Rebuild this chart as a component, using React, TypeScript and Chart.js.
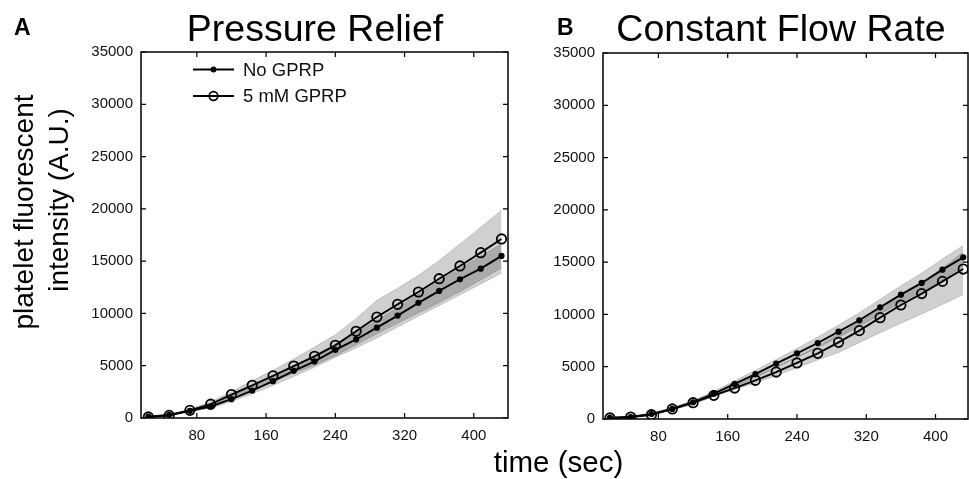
import React, { useEffect, useRef } from "react";
import { Chart, registerables } from "chart.js";
Chart.register(...registerables);

const FONT = "'Liberation Sans', Arial, Helvetica, sans-serif";

const times = [24, 48, 72, 96, 120, 144, 168, 192, 216, 240, 264, 288, 312, 336, 360, 384, 408, 432];
const xTicks = [80, 160, 240, 320, 400];
const yTicks = [0, 5000, 10000, 15000, 20000, 25000, 30000, 35000];
const seriesLabels = ["No GPRP", "5 mM GPRP"];

// Panel A: Pressure Relief
const aNoMean = [130, 290, 690, 1100, 1800, 2620, 3520, 4510, 5410, 6520, 7510, 8640, 9790, 11010, 12150, 13270, 14280, 15500];
const aNoUpper = [200, 360, 790, 1320, 2120, 3020, 3980, 4980, 5980, 7100, 8150, 9350, 10550, 11850, 13100, 14300, 15500, 16640];
const aNoLower = [80, 220, 590, 940, 1580, 2320, 3100, 3980, 4850, 5800, 6700, 7650, 8700, 9730, 10760, 11780, 12810, 13850];
const aGprpMean = [100, 250, 730, 1320, 2240, 3130, 4030, 4970, 5900, 6950, 8290, 9660, 10870, 12050, 13320, 14540, 15810, 17120];
const aGprpUpper = [150, 320, 850, 1550, 2500, 3580, 4560, 5650, 6780, 7950, 9500, 11250, 12400, 13650, 15050, 16650, 18250, 19860];
const aGprpLower = [60, 200, 620, 1100, 1950, 2720, 3450, 4300, 5050, 5950, 7000, 8050, 9050, 10050, 11050, 12100, 13200, 14340];

// Panel B: Constant Flow Rate
const bNoMean = [100, 190, 480, 960, 1600, 2420, 3350, 4300, 5290, 6280, 7270, 8350, 9440, 10680, 11890, 13010, 14280, 15460];
const bNoUpper = [150, 250, 560, 1070, 1760, 2650, 3650, 4650, 5700, 6750, 7850, 9000, 10150, 11450, 12750, 13950, 15300, 16600];
const bNoLower = [60, 140, 400, 870, 1450, 2230, 3080, 3980, 4920, 5880, 6820, 7820, 8850, 10000, 11150, 12200, 13350, 14550];
const bGprpMean = [100, 190, 410, 960, 1560, 2260, 2960, 3700, 4490, 5360, 6280, 7330, 8450, 9690, 10900, 11990, 13160, 14340];
const bGprpUpper = [140, 240, 500, 1080, 1720, 2480, 3250, 4080, 4980, 5950, 6950, 8100, 9250, 10550, 11850, 13050, 14450, 15950];
const bGprpLower = [60, 140, 320, 850, 1400, 2150, 2800, 3450, 4150, 4900, 5650, 6350, 7300, 8250, 9150, 10050, 10950, 11900];

const pts = (ys: number[]) => times.map((t, i) => ({ x: t, y: ys[i] }));

const BAND_FILL = "rgba(0,0,0,0.185)";
const BAND_EDGE = "rgba(0,0,0,0.22)";

function buildDatasets(no: number[], noU: number[], noL: number[], gp: number[], gpU: number[], gpL: number[]) {
  const band = (d: number[], fill: any) => ({
    data: pts(d),
    borderColor: BAND_EDGE,
    borderWidth: 0.7,
    backgroundColor: BAND_FILL,
    pointRadius: 0,
    fill,
  });
  return [
    {
      label: seriesLabels[0],
      data: pts(no),
      borderColor: "#000",
      borderWidth: 1.9,
      pointRadius: 3.1,
      pointBackgroundColor: "#000",
      pointBorderColor: "#000",
      pointBorderWidth: 0,
      fill: false,
    },
    {
      label: seriesLabels[1],
      data: pts(gp),
      borderColor: "#000",
      borderWidth: 1.9,
      pointRadius: 4.7,
      pointBackgroundColor: "rgba(0,0,0,0)",
      pointBorderColor: "#000",
      pointBorderWidth: 1.8,
      fill: false,
    },
    band(gpU, "+1"),
    band(gpL, false),
    band(noU, "+1"),
    band(noL, false),
  ];
}

const framePlugin = {
  id: "frame",
  afterDatasetsDraw(chart: any) {
    const { ctx, chartArea: a, scales } = chart;
    ctx.save();
    ctx.strokeStyle = "#000";
    ctx.lineWidth = 1.5;
    ctx.strokeRect(a.left, a.top, a.right - a.left, a.bottom - a.top);
    ctx.lineWidth = 1.2;
    const tl = 5;
    ctx.beginPath();
    for (const t of scales.x.ticks) {
      const px = scales.x.getPixelForValue(t.value);
      ctx.moveTo(px, a.bottom);
      ctx.lineTo(px, a.bottom - tl);
      ctx.moveTo(px, a.top);
      ctx.lineTo(px, a.top + tl);
    }
    for (const t of scales.y.ticks) {
      const py = scales.y.getPixelForValue(t.value);
      ctx.moveTo(a.left, py);
      ctx.lineTo(a.left + tl, py);
      ctx.moveTo(a.right, py);
      ctx.lineTo(a.right - tl, py);
    }
    ctx.stroke();
    ctx.restore();
  },
};

function makeLegendPlugin() {
  return {
    id: "inlegend",
    afterDraw(chart: any) {
      const { ctx, chartArea: a } = chart;
      const x0 = a.left + 52;
      const y0 = a.top + 17.5;
      const gap = 26.5;
      const seg = 41;
      ctx.save();
      chart.data.datasets.slice(0, 2).forEach((ds: any, i: number) => {
        const y = y0 + i * gap;
        ctx.strokeStyle = "#000";
        ctx.lineWidth = 1.9;
        ctx.beginPath();
        ctx.moveTo(x0, y);
        ctx.lineTo(x0 + seg, y);
        ctx.stroke();
        const cx = x0 + seg / 2;
        ctx.beginPath();
        if (i === 0) {
          ctx.fillStyle = "#000";
          ctx.arc(cx, y, 2.9, 0, Math.PI * 2);
          ctx.fill();
        } else {
          ctx.lineWidth = 1.7;
          ctx.arc(cx, y, 4.3, 0, Math.PI * 2);
          ctx.stroke();
        }
        ctx.fillStyle = "#111";
        ctx.font = `18.5px ${FONT}`;
        ctx.textBaseline = "middle";
        ctx.textAlign = "left";
        ctx.fillText(ds.label, x0 + 50, y + 1);
      });
      ctx.restore();
    },
  };
}

type PanelProps = {
  left: number;
  width: number;
  area: { left: number; right: number; top: number; bottom: number };
  xmin: number;
  xmax: number;
  datasets: any[];
  legend: boolean;
};

function Panel({ left, width, area, xmin, xmax, datasets, legend }: PanelProps) {
  const ref = useRef<HTMLCanvasElement>(null);
  useEffect(() => {
    const plugins: any[] = [framePlugin];
    if (legend) plugins.push(makeLegendPlugin());
    const chart = new Chart(ref.current as HTMLCanvasElement, {
      type: "line",
      data: { datasets },
      plugins,
      options: {
        animation: false,
        responsive: true,
        maintainAspectRatio: false,
        events: [],
        layout: { autoPadding: false, padding: { left: 0, right: width - area.right, top: area.top, bottom: 0 } },
        plugins: { legend: { display: false }, tooltip: { enabled: false }, title: { display: false } },
        scales: {
          x: {
            type: "linear",
            min: xmin,
            max: xmax,
            grid: { display: false, drawTicks: false },
            border: { display: false },
            afterBuildTicks: (s: any) => {
              s.ticks = xTicks.map((v) => ({ value: v }));
            },
            afterFit: (s: any) => {
              s.height = 479 - area.bottom;
              s.paddingLeft = 0;
              s.paddingRight = 0;
            },
            ticks: {
              padding: 9,
              color: "#111",
              font: { family: FONT, size: 15 },
              maxRotation: 0,
              autoSkip: false,
              callback: (v: any) => String(v),
            },
          },
          y: {
            type: "linear",
            min: 0,
            max: 35000,
            grid: { display: false, drawTicks: false },
            border: { display: false },
            afterBuildTicks: (s: any) => {
              s.ticks = yTicks.map((v) => ({ value: v }));
            },
            afterFit: (s: any) => {
              s.width = area.left;
              s.paddingTop = 0;
              s.paddingBottom = 0;
            },
            ticks: {
              padding: 8,
              color: "#111",
              font: { family: FONT, size: 15 },
              autoSkip: false,
              callback: (v: any) => String(v),
            },
          },
        },
      } as any,
    });
    return () => chart.destroy();
  }, []);
  return (
    <div style={{ position: "absolute", left, top: 0, width, height: 479 }}>
      <canvas ref={ref} />
    </div>
  );
}

const textBase: React.CSSProperties = {
  position: "absolute",
  fontFamily: FONT,
  color: "#000",
  lineHeight: 1,
  whiteSpace: "nowrap",
};

export default function App() {
  const dsA = buildDatasets(aNoMean, aNoUpper, aNoLower, aGprpMean, aGprpUpper, aGprpLower);
  const dsB = buildDatasets(bNoMean, bNoUpper, bNoLower, bGprpMean, bGprpUpper, bGprpLower);
  return (
    <div style={{ position: "fixed", left: 0, top: 0, width: 969, height: 479, background: "#fff", overflow: "hidden" }}>
      <Panel
        left={0}
        width={520}
        area={{ left: 141, right: 508, top: 52, bottom: 418 }}
        xmin={15.5}
        xmax={439.5}
        datasets={dsA}
        legend={true}
      />
      <Panel
        left={520}
        width={449}
        area={{ left: 83, right: 448, top: 53, bottom: 419 }}
        xmin={16}
        xmax={437.5}
        datasets={dsB}
        legend={false}
      />
      <div style={{ ...textBase, left: 14, top: 15.5, fontSize: 23, fontWeight: "bold" }}>A</div>
      <div style={{ ...textBase, left: 557, top: 15.5, fontSize: 23, fontWeight: "bold" }}>B</div>
      <div style={{ ...textBase, left: 315, top: 10.3, fontSize: 37.5, transform: "translateX(-50%)" }}>Pressure Relief</div>
      <div style={{ ...textBase, left: 781, top: 10.3, fontSize: 37.5, transform: "translateX(-50%)" }}>Constant Flow Rate</div>
      <div style={{ ...textBase, left: 24, top: 212, fontSize: 28, transform: "translate(-50%, -50%) rotate(-90deg)" }}>
        platelet fluorescent
      </div>
      <div style={{ ...textBase, left: 59, top: 200, fontSize: 28, transform: "translate(-50%, -50%) rotate(-90deg)" }}>
        intensity (A.U.)
      </div>
      <div style={{ ...textBase, left: 558.5, top: 447, fontSize: 29.5, transform: "translateX(-50%)" }}>time (sec)</div>
    </div>
  );
}
